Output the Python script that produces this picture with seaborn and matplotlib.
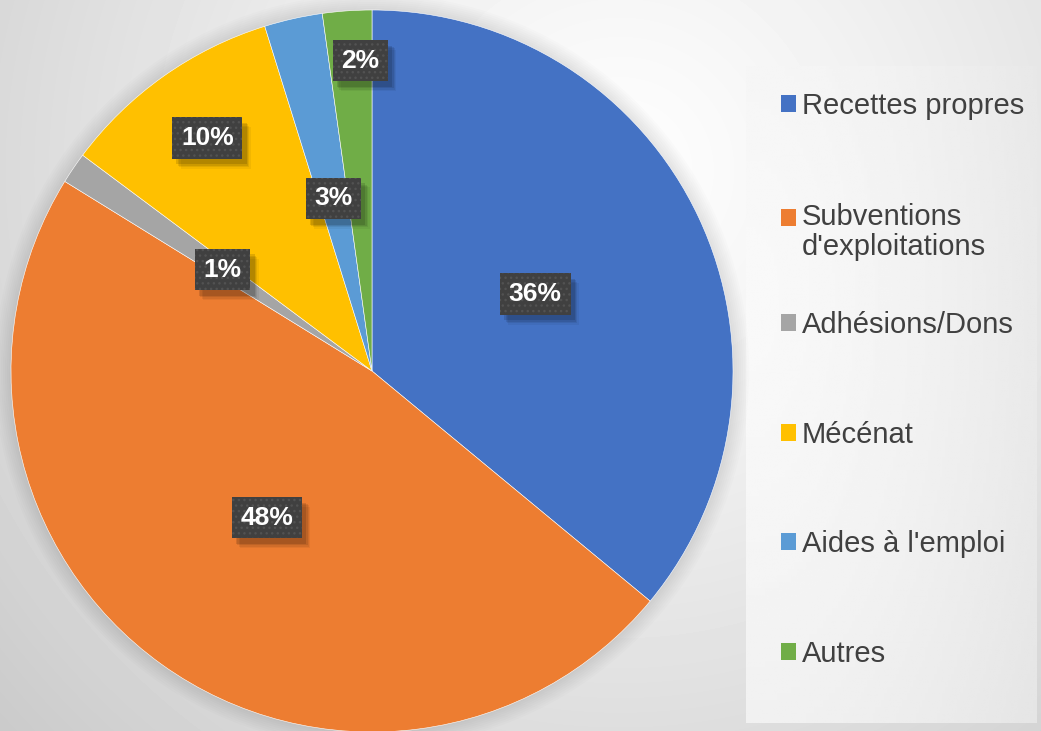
import numpy as np
import matplotlib
matplotlib.use("Agg")
import matplotlib.pyplot as plt
import matplotlib.patheffects as pe
from matplotlib.patches import Patch, Circle, Rectangle
from matplotlib.legend_handler import HandlerPatch
import seaborn as sns

# Données
categories = ["Recettes propres", "Subventions\nd'exploitations", "Adhésions/Dons",
              "Mécénat", "Aides à l'emploi", "Autres"]
parts = [36.0, 47.8, 1.4, 10.0, 2.6, 2.2]
couleurs = ["#4472C4", "#ED7D31", "#A5A5A5", "#FFC000", "#5B9BD5", "#70AD47"]
# position des étiquettes : distance radiale (fraction du rayon) et petit décalage angulaire
dist_etiquettes = [0.50, 0.50, 0.50, 0.79, 0.49, 0.86]
decal_angle = [0, 0, 0, 0, 0, -1.8]

sns.set_theme(style="white")
plt.rcParams['font.family'] = ['Liberation Sans', 'DejaVu Sans']
plt.rcParams['hatch.linewidth'] = 1.0

W, H = 1041, 731
fig = plt.figure(figsize=(W / 100, H / 100), dpi=100)

# fond en dégradé radial
bg = fig.add_axes([0, 0, 1, 1])
yy, xx = np.mgrid[0:H, 0:W]
d = np.hypot(xx - 620, yy - 170) / 830.0
fond = 0.995 - 0.2 * d ** 1.2
bg.imshow(fond, cmap="gray", vmin=0, vmax=1, aspect="auto", interpolation="bilinear")
bg.set_axis_off()

# fond de la légende
lg = fig.add_axes([746 / W, 1 - 723 / H, (1037 - 746) / W, (723 - 66) / H])
ly, lx = np.mgrid[0:100, 0:100]
fond_l = 0.975 - 0.08 * (np.hypot(lx - 0, ly - 35) / 120.0) ** 1.5
lg.imshow(fond_l, cmap="gray", vmin=0, vmax=1, aspect="auto", interpolation="bilinear")
lg.set_axis_off()

# camembert
R = 361
ax = fig.add_axes([(372 - R) / W, (H - 371 - R) / H, 2 * R / W, 2 * R / H])
palette = sns.color_palette(couleurs)

# halo / ombre douce autour du disque
for r in np.linspace(1.0, 1.045, 9):
    ax.add_patch(Circle((0, 0), r, color="black", alpha=0.013, lw=0, zorder=0, clip_on=False))

wedges, _ = ax.pie(parts, colors=palette, startangle=90, counterclock=False,
                   wedgeprops=dict(edgecolor="white", linewidth=0.4), radius=1.0)
for w in wedges:
    w.set_zorder(2)
ax.set_xlim(-1, 1)
ax.set_ylim(-1, 1)
ax.set_aspect("equal")
ax.set_axis_off()

# ombre floue (plusieurs couches), sans hachures
ombre = [pe.SimplePatchShadow(offset=(o, -o - 1), shadow_rgbFace="black", alpha=a, hatch=None)
         for o, a in ((6, 0.05), (5, 0.07), (4, 0.09), (3, 0.12))]
for w, v, rf, da in zip(wedges, parts, dist_etiquettes, decal_angle):
    ang = np.deg2rad((w.theta1 + w.theta2) / 2 + da)
    t = ax.text(rf * np.cos(ang), rf * np.sin(ang), f"{v:.0f}%", ha="center", va="center",
                color="white", fontsize=19, fontweight="bold", zorder=5,
                bbox=dict(boxstyle="square,pad=0.33", fc="#404040", ec="#525252", lw=0,
                          hatch="..."))
    t.get_bbox_patch().set_path_effects(ombre + [pe.Normal()])


# carré de légende aligné sur la première ligne du libellé
def carre_haut(legend, orig_handle, xdescent, ydescent, width, height, fontsize):
    return Rectangle((-xdescent, -ydescent + 0.52 * fontsize), width, height)


handles = [Patch(facecolor=c, edgecolor="none") for c in palette]
leg_kw = dict(loc="upper left", frameon=False, fontsize=21, handlelength=0.52,
              handleheight=0.52, handletextpad=0.2, borderpad=0, borderaxespad=0)
leg1 = fig.legend(handles[:2], categories[:2], bbox_to_anchor=(781 / W, 1 - 92 / H),
                  labelspacing=2.85,
                  handler_map={handles[1]: HandlerPatch(patch_func=carre_haut)}, **leg_kw)
leg2 = fig.legend(handles[2:], categories[2:], bbox_to_anchor=(781 / W, 1 - 311 / H),
                  labelspacing=2.8, **leg_kw)
for leg in (leg1, leg2):
    for t in leg.get_texts():
        t.set_color("#404040")
        t.set_linespacing(1.08)

fig.savefig("out.png", dpi=100)
